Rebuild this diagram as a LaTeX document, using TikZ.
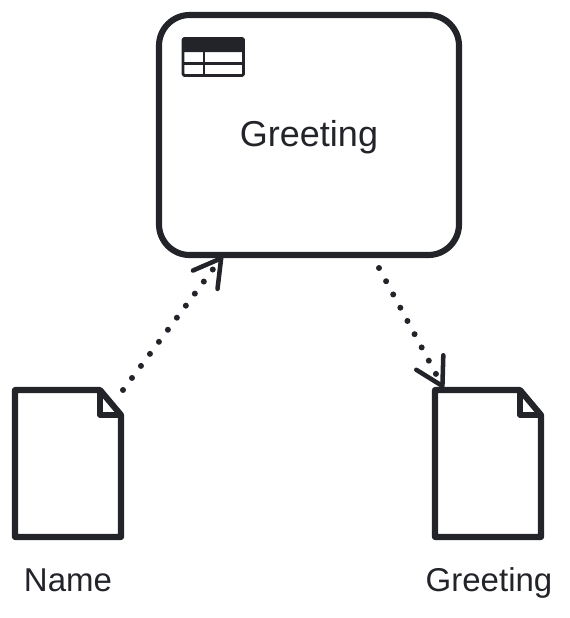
\documentclass[tikz,border=0pt]{standalone}
\usepackage{fontspec}
\setmainfont{Liberation Sans}
\usetikzlibrary{arrows.meta}
\definecolor{ink}{HTML}{22242A}
\newcommand{\px}{0.75pt}
\tikzset{
  heavy/.style={draw=ink,line width=4.6pt,line join=round},
  taskbox/.style={heavy,rounded corners=23pt,minimum width=225pt,minimum height=180pt,inner sep=0pt},
  icon/.style={draw=ink,line width=2.1pt,line join=round},
  flow/.style={draw=ink,line width=4.5pt,line cap=round,dash pattern=on 0pt off 11.27pt,
    -{Straight Barb[length=20pt,width=23pt,line width=3.4pt,round]}},
  label/.style={text=ink,inner sep=0pt,anchor=base}
}
\newcommand{\docshape}[2]{%
  \coordinate (#1) at (#2,390);
  \draw[heavy,line cap=round] (#2,390) -- ++(85,0) -- ++(21,25) -- ++(0,122) -- ++(-106,0) -- cycle;
  \draw[heavy,line width=3.8pt] (#2+85,390) -- ++(0,25) -- ++(21,0);
}
\begin{document}
\begin{tikzpicture}[x=\px,y=-\px]
\useasboundingbox (0,0) rectangle (570,618);
\node[taskbox] (task) at (309,135) {};
\node[label,font=\fontsize{27}{32}\selectfont] (tasklabel) at (309,146) {Greeting};
% table icon
\draw[icon,rounded corners=1pt] (183,38.5) rectangle (243.5,75.5);
\fill[ink,rounded corners=1pt] (182,37.5) rectangle (244.5,52);
\draw[icon] (204,52) -- (204,75.5);
\draw[icon] (183,63.5) -- (243.5,63.5);
% documents
\docshape{docA}{15}
\docshape{docB}{435}
\coordinate (inA) at (123,390);
\coordinate (inB) at (222.5,256.5);
\coordinate (outA) at (379,268);
\coordinate (outB) at (443.5,388);
\draw[flow] (inA) -- (inB);
\draw[flow] (outA) -- (outB);
\node[label,font=\fontsize{24.75}{30}\selectfont] (nameA) at (68,591) {Name};
\node[label,font=\fontsize{24.75}{30}\selectfont] (nameB) at (489,591) {Greeting};
\end{tikzpicture}
\end{document}
